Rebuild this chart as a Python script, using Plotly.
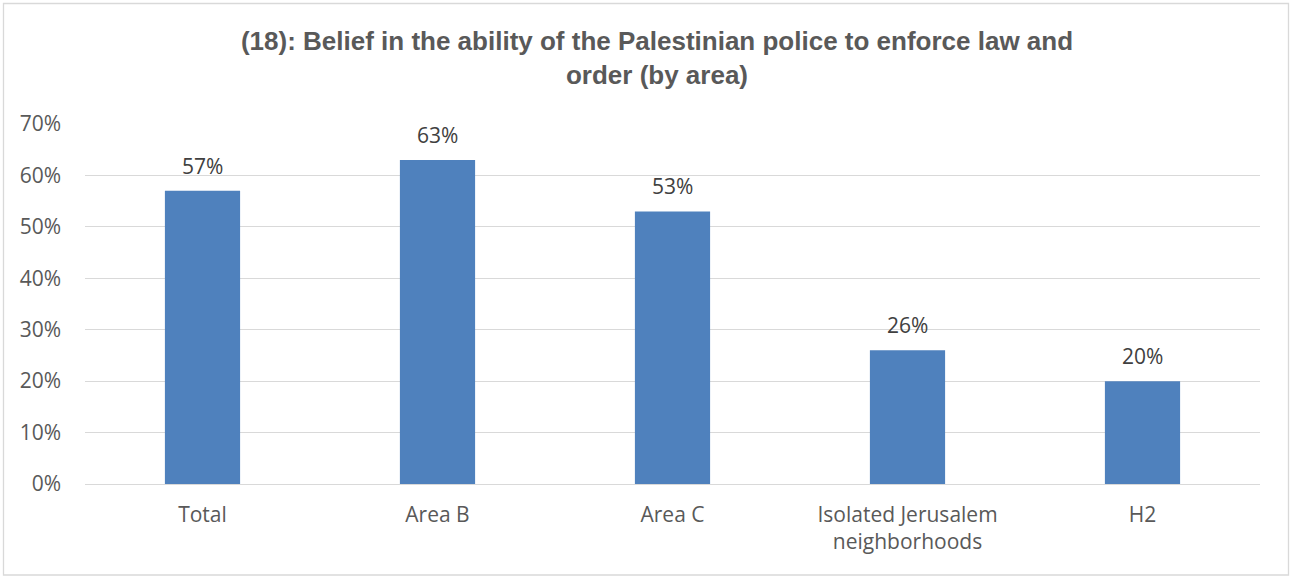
import plotly.graph_objects as go

categories = ["Total", "Area B", "Area C", "Isolated Jerusalem<br>neighborhoods", "H2"]
values = [57, 63, 53, 26, 20]
tick_vals = [0, 10, 20, 30, 40, 50, 60, 70]
tick_text = ["0%", "10%", "20%", "30%", "40%", "50%", "60%", "70%"]
title_text = "(18): Belief in the ability of the Palestinian police to enforce law and<br>order (by area)"

W, H = 1292, 580
L, R, T, B = 85, 32, 124, 96
pw, ph = W - L - R, H - T - B
LABEL_FONT = "Open Sans, sans-serif"

fig = go.Figure(go.Bar(
    x=categories, y=values,
    marker=dict(color="#4f81bd", line=dict(width=0)),
    width=0.32, hoverinfo="x+y",
))

for c, v in zip(categories, values):
    fig.add_annotation(x=c, y=v, text=f"{v}%", showarrow=False, yanchor="bottom",
                       yshift=9, font=dict(family=LABEL_FONT, size=21, color="#404040"))

def px2paper_x(p):
    return (p - L) / pw

def px2paper_y(p):
    return (H - B - p) / ph

fig.update_layout(
    width=W, height=H,
    margin=dict(l=L, r=R, t=T, b=B, pad=0),
    plot_bgcolor="white", paper_bgcolor="white",
    title=dict(text=title_text, xref="container", x=657 / W, xanchor="center",
               y=1 - 50 / H, yanchor="top",
               font=dict(family="Liberation Sans, Arial, sans-serif", size=26, color="#595959", weight="bold")),
    xaxis=dict(showgrid=False, showline=False, ticks="", ticklabelstandoff=16,
               tickfont=dict(family=LABEL_FONT, size=21, color="#595959")),
    yaxis=dict(range=[0, 70], tickvals=tick_vals, ticktext=tick_text, showgrid=True,
               gridcolor="#d9d9d9", gridwidth=1.3, zeroline=True, zerolinecolor="#d9d9d9", zerolinewidth=1.3,
               ticks="", ticklabelstandoff=23,
               tickfont=dict(family=LABEL_FONT, size=21, color="#595959")),
    showlegend=False,
    shapes=[dict(type="rect", xref="paper", yref="paper",
                 x0=px2paper_x(3.5), x1=px2paper_x(1288.5), y0=px2paper_y(575), y1=px2paper_y(3.5),
                 line=dict(color="#d9d9d9", width=1.3), fillcolor="rgba(0,0,0,0)", layer="below")],
)

fig.write_html("out.html", config={"displayModeBar": False},
               post_script="document.body.style.margin='0';")
